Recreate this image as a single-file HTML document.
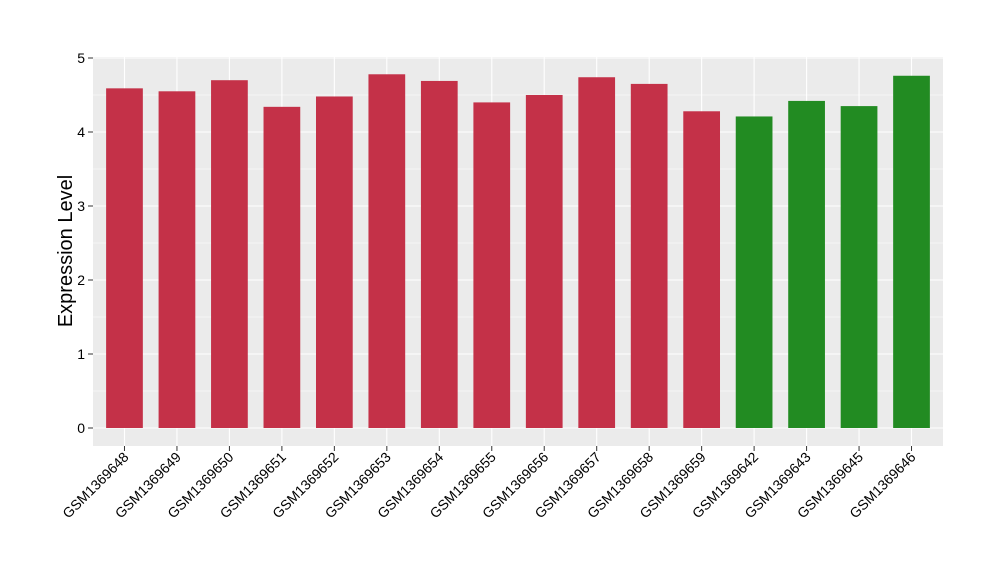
<!DOCTYPE html>
<html><head><meta charset="utf-8"><style>
body{margin:0;background:#fff;font-family:"Liberation Sans",sans-serif;}
</style></head><body>
<svg width="1000" height="580" id="chart">
<rect x="93" y="57" width="850" height="389" fill="#ebebeb"/>
<g id="grid"></g><g id="bars"></g><g id="axes"></g>
<text transform="translate(72,251) rotate(-90)" text-anchor="middle" font-size="20" fill="#000">Expression Level</text>
</svg>
<script>
const categories=["GSM1369648","GSM1369649","GSM1369650","GSM1369651","GSM1369652","GSM1369653","GSM1369654","GSM1369655","GSM1369656","GSM1369657","GSM1369658","GSM1369659","GSM1369642","GSM1369643","GSM1369645","GSM1369646"];
const values=[4.59,4.55,4.70,4.34,4.48,4.78,4.69,4.40,4.50,4.74,4.65,4.28,4.21,4.42,4.35,4.76];
const groups=["a","a","a","a","a","a","a","a","a","a","a","a","b","b","b","b"];
const yTicks=[0,1,2,3,4,5];
const colors={a:"#c43148",b:"#228b22"};
const NS="http://www.w3.org/2000/svg";
const px0=93,px1=943,y0=428,yPer=74;
const n=categories.length;
const xs=i=>px0+(i+1-0.4)*(px1-px0)/(n+0.2);
const band=(px1-px0)/(n+0.2);
const ys=v=>y0-v*yPer;
function mk(t,a,p){const e=document.createElementNS(NS,t);for(const k in a)e.setAttribute(k,a[k]);p.appendChild(e);return e;}
const grid=document.getElementById('grid'),bars=document.getElementById('bars'),axes=document.getElementById('axes');
yTicks.forEach((t,i)=>{
 const g=mk('line',{x1:px0,x2:px1,y1:ys(t),y2:ys(t),stroke:'#fff','stroke-width':1.1},grid);
 
 
 if(i<yTicks.length-1){const m=mk('line',{x1:px0,x2:px1,y1:ys(t+0.5),y2:ys(t+0.5),stroke:'#fff','stroke-width':0.5},grid);
 
 }
 mk('line',{x1:88,x2:93,y1:ys(t),y2:ys(t),stroke:'#333'},axes);
 const tx=mk('text',{x:85,y:ys(t)+5,'text-anchor':'end','font-size':14,fill:'#000'},axes);
 tx.textContent=t;
 
 
});
categories.forEach((c,i)=>{
 const x=xs(i);
 const gl=mk('line',{x1:x,x2:x,y1:57,y2:446,stroke:'#fff','stroke-width':1.1},grid);
 
 
 const r=mk('rect',{x:x-band*0.35,width:band*0.7,y:ys(values[i]),height:values[i]*yPer,fill:colors[groups[i]]},bars);
 
 
 mk('line',{x1:x,x2:x,y1:446,y2:451,stroke:'#333'},axes);
 const t=mk('text',{transform:`translate(${x+5},${458}) rotate(-45)`,'text-anchor':'end','font-size':14,fill:'#000'},axes);
 t.textContent=c;
 
 
});
</script>
</body></html>
